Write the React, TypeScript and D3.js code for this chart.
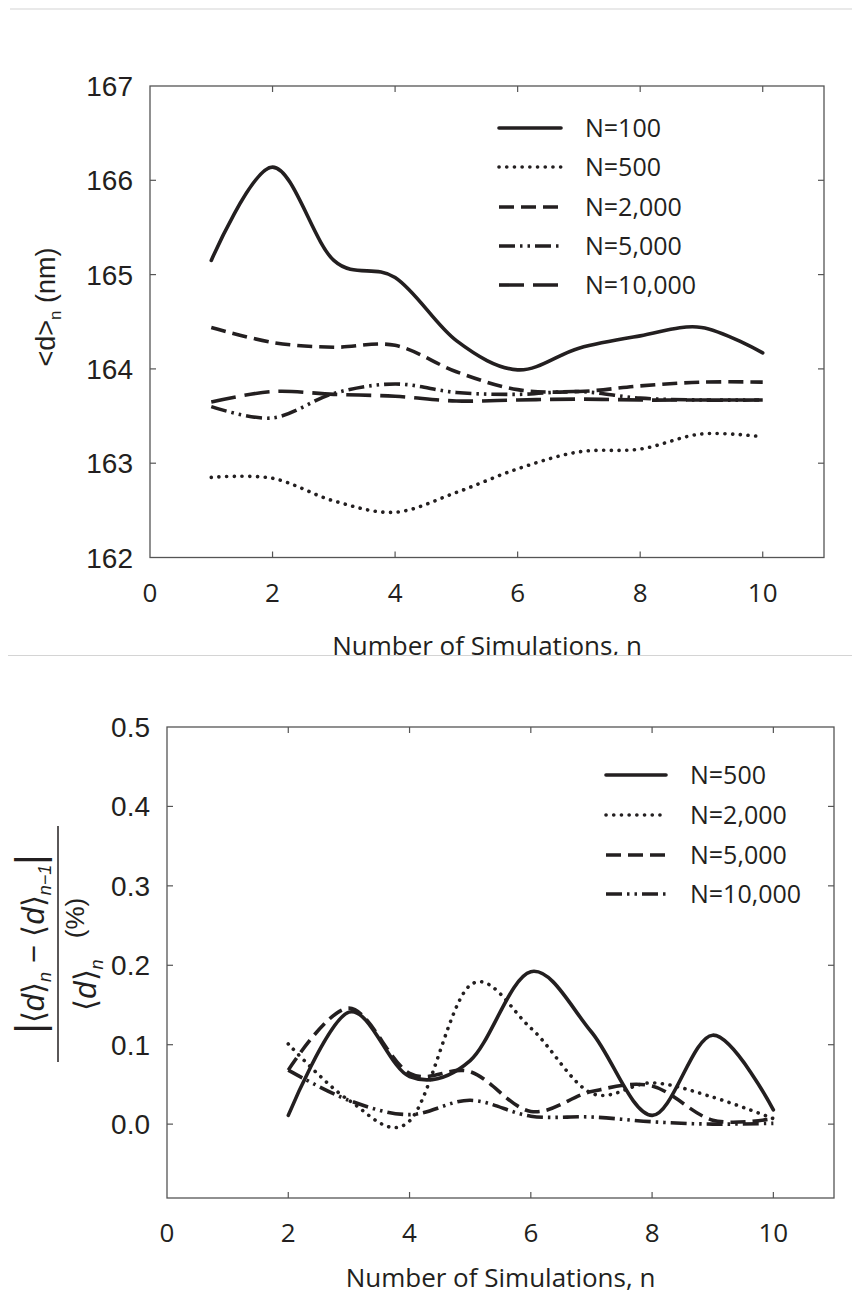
import React, { useEffect, useRef } from "react";
import * as d3 from "d3";

// ---------- data ----------
const nTop = [1, 2, 3, 4, 5, 6, 7, 8, 9, 10];
const topN100 = [165.15, 166.14, 165.15, 164.97, 164.3, 163.99, 164.22, 164.35, 164.44, 164.17];
const topN500 = [162.85, 162.84, 162.6, 162.48, 162.69, 162.94, 163.12, 163.15, 163.31, 163.28];
const topN2000 = [164.44, 164.28, 164.23, 164.25, 163.97, 163.78, 163.76, 163.82, 163.86, 163.86];
const topN5000 = [163.6, 163.48, 163.74, 163.84, 163.75, 163.73, 163.76, 163.69, 163.67, 163.67];
const topN10000 = [163.65, 163.76, 163.73, 163.71, 163.66, 163.67, 163.68, 163.67, 163.67, 163.67];
const topLabels = ["N=100", "N=500", "N=2,000", "N=5,000", "N=10,000"];
const topYTicks = [162, 163, 164, 165, 166, 167];

const nBot = [2, 3, 4, 5, 6, 7, 8, 9, 10];
const botN500 = [0.011, 0.141, 0.06, 0.08, 0.192, 0.116, 0.011, 0.112, 0.018];
const botN2000 = [0.101, 0.03, 0.004, 0.175, 0.121, 0.039, 0.052, 0.034, 0.007];
const botN5000 = [0.068, 0.146, 0.064, 0.066, 0.016, 0.041, 0.048, 0.005, 0.007];
const botN10000 = [0.068, 0.03, 0.012, 0.03, 0.01, 0.009, 0.003, 0.0, 0.001];
const botLabels = ["N=500", "N=2,000", "N=5,000", "N=10,000"];
const botYTicks = [0.0, 0.1, 0.2, 0.3, 0.4, 0.5];

const xTicks = [0, 2, 4, 6, 8, 10];
const xTitle = "Number of Simulations, n";

// ---------- styles ----------
const INK = "#231f20";
const FRAME = "#555";
const styles = {
  solid: { dash: null, cap: "round" },
  dotted: { dash: "0.1 7.6", cap: "round" },
  dashed: { dash: "15 7", cap: "butt" },
  dashdotdot: { dash: "16 5 2.5 5 2.5 5", cap: "butt" },
  longdash: { dash: "25 9", cap: "butt" },
};
const topStyles = ["solid", "dotted", "dashed", "dashdotdot", "longdash"];
const botStyles = ["solid", "dotted", "dashed", "dashdotdot"];

const NUM_FONT = "'Liberation Sans', Arial, sans-serif";
const CAL_FONT = "'Open Sans', sans-serif";
const LEG_FONT = "'Open Sans', sans-serif";

function drawFrame(g, x, y, yTicks, fmt) {
  const [x0, x1] = x.range();
  const [y0, y1] = y.range(); // y0 bottom, y1 top
  g.append("rect")
    .attr("x", x0).attr("y", y1)
    .attr("width", x1 - x0).attr("height", y0 - y1)
    .attr("fill", "none").attr("stroke", FRAME).attr("stroke-width", 1.3);
  const tl = 6;
  xTicks.forEach((t) => {
    if (t === 0) return;
    const px = x(t);
    g.append("line").attr("x1", px).attr("x2", px).attr("y1", y0).attr("y2", y0 - tl)
      .attr("stroke", FRAME).attr("stroke-width", 1.2);
    g.append("line").attr("x1", px).attr("x2", px).attr("y1", y1).attr("y2", y1 + tl)
      .attr("stroke", FRAME).attr("stroke-width", 1.2);
  });
  yTicks.forEach((t) => {
    const py = y(t);
    if (py < y0 - 1 && py > y1 + 1) {
      g.append("line").attr("x1", x0).attr("x2", x0 + tl).attr("y1", py).attr("y2", py)
        .attr("stroke", FRAME).attr("stroke-width", 1.2);
      g.append("line").attr("x1", x1).attr("x2", x1 - tl).attr("y1", py).attr("y2", py)
        .attr("stroke", FRAME).attr("stroke-width", 1.2);
    }
    g.append("text").attr("x", x0 - 17).attr("y", py + 10)
      .attr("text-anchor", "end").attr("font-family", NUM_FONT).attr("font-size", 28)
      .attr("fill", INK).text(fmt(t));
  });
}

function drawSeries(g, x, y, xs, ys, styleKey) {
  const st = styles[styleKey];
  const line = d3.line().x((d) => x(d[0])).y((d) => y(d[1])).curve(d3.curveCardinal.tension(0));
  const p = g.append("path")
    .attr("d", line(xs.map((v, i) => [v, ys[i]])))
    .attr("fill", "none").attr("stroke", INK).attr("stroke-width", 3.6)
    .attr("stroke-linecap", st.cap).attr("stroke-linejoin", "round");
  if (st.dash) p.attr("stroke-dasharray", st.dash);
}

function drawLegend(g, labels, styleKeys, lx0, lx1, tx, ys) {
  labels.forEach((lab, i) => {
    const st = styles[styleKeys[i]];
    const l = g.append("line").attr("x1", lx0).attr("x2", lx1).attr("y1", ys[i]).attr("y2", ys[i])
      .attr("stroke", INK).attr("stroke-width", 3.6).attr("stroke-linecap", st.cap);
    if (st.dash) l.attr("stroke-dasharray", st.dash);
    g.append("text").attr("x", tx).attr("y", ys[i] + 9)
      .attr("font-family", LEG_FONT).attr("font-size", 25).attr("fill", INK).text(lab);
  });
}

export default function App() {
  const ref = useRef(null);
  useEffect(() => {
    const svg = d3.select(ref.current);
    svg.selectAll("*").remove();

    // separators
    svg.append("line").attr("x1", 10).attr("x2", 852).attr("y1", 9).attr("y2", 9)
      .attr("stroke", "#d4d4d4").attr("stroke-width", 1.2);

    // ---------- top chart ----------
    svg.append("clipPath").attr("id", "topclip").append("rect")
      .attr("x", 0).attr("y", 0).attr("width", 852).attr("height", 655);
    const gt = svg.append("g").attr("clip-path", "url(#topclip)");
    const xT = d3.scaleLinear().domain([0, 11]).range([150, 824]);
    const yT = d3.scaleLinear().domain([162, 167]).range([557.5, 86]);
    drawFrame(gt, xT, yT, topYTicks, (v) => d3.format("d")(v));
    xTicks.forEach((t) => {
      gt.append("text").attr("x", xT(t)).attr("y", 602).attr("text-anchor", "middle")
        .attr("font-family", CAL_FONT).attr("font-size", 26).attr("fill", INK).text(t);
    });
    gt.append("text").attr("x", (xT.range()[0] + xT.range()[1]) / 2).attr("y", 655)
      .attr("text-anchor", "middle").attr("font-family", CAL_FONT).attr("font-size", 26)
      .attr("fill", INK).text(xTitle);
    // y title
    const yt = gt.append("text").attr("transform", "translate(55,307) rotate(-90)")
      .attr("text-anchor", "middle").attr("font-family", NUM_FONT).attr("font-size", 27).attr("fill", INK);
    yt.append("tspan").text("<d>");
    yt.append("tspan").attr("font-size", 17).attr("dy", 6).text("n");
    yt.append("tspan").attr("dy", -6).text(" (nm)");

    const topSeries = [topN100, topN500, topN2000, topN5000, topN10000];
    topSeries.forEach((s, i) => drawSeries(gt, xT, yT, nTop, s, topStyles[i]));
    drawLegend(gt, topLabels, topStyles, 499, 561, 585, [128, 167, 207, 246, 285]);

    svg.append("line").attr("x1", 8).attr("x2", 852).attr("y1", 655.5).attr("y2", 655.5)
      .attr("stroke", "#d4d4d4").attr("stroke-width", 1.2);

    // ---------- bottom chart ----------
    const gb = svg.append("g");
    const xB = d3.scaleLinear().domain([0, 11]).range([167, 834]);
    const yB = d3.scaleLinear().domain([-0.093, 0.5]).range([1198, 727]);
    drawFrame(gb, xB, yB, botYTicks, (v) => d3.format(".1f")(v));
    xTicks.forEach((t) => {
      gb.append("text").attr("x", xB(t)).attr("y", 1242).attr("text-anchor", "middle")
        .attr("font-family", CAL_FONT).attr("font-size", 26).attr("fill", INK).text(t);
    });
    gb.append("text").attr("x", (xB.range()[0] + xB.range()[1]) / 2).attr("y", 1287)
      .attr("text-anchor", "middle").attr("font-family", CAL_FONT).attr("font-size", 26)
      .attr("fill", INK).text(xTitle);

    const botSeries = [botN500, botN2000, botN5000, botN10000];
    botSeries.forEach((s, i) => drawSeries(gb, xB, yB, nBot, s, botStyles[i]));
    drawLegend(gb, botLabels, botStyles, 606, 666, 690, [775, 815, 855, 894]);

    // y-axis formula label (rotated)
    const fg = gb.append("g").attr("transform", "translate(52,944) rotate(-90)")
      .attr("font-family", NUM_FONT).attr("fill", INK);
    const num = fg.append("text").attr("x", 0).attr("y", -8).attr("text-anchor", "middle").attr("font-size", 31);
    num.append("tspan").attr("font-size", 40).text("|");
    num.append("tspan").text("⟨");
    num.append("tspan").attr("font-style", "italic").text("d");
    num.append("tspan").text("⟩");
    num.append("tspan").attr("font-size", 18).attr("font-style", "italic").attr("dy", 7).text("n");
    num.append("tspan").attr("dy", -7).text(" − ⟨");
    num.append("tspan").attr("font-style", "italic").text("d");
    num.append("tspan").text("⟩");
    num.append("tspan").attr("font-size", 18).attr("font-style", "italic").attr("dy", 7).text("n−1");
    num.append("tspan").attr("dy", -7).attr("font-size", 40).text("|");
    fg.append("line").attr("x1", -118).attr("x2", 118).attr("y1", 6).attr("y2", 6)
      .attr("stroke", INK).attr("stroke-width", 1.5);
    const den = fg.append("text").attr("x", -41).attr("y", 44).attr("text-anchor", "middle").attr("font-size", 31);
    den.append("tspan").text("⟨");
    den.append("tspan").attr("font-style", "italic").text("d");
    den.append("tspan").text("⟩");
    den.append("tspan").attr("font-size", 18).attr("font-style", "italic").attr("dy", 7).text("n");
    fg.append("text").attr("x", 26).attr("y", 32).attr("text-anchor", "middle").attr("font-size", 26).text("(%)");
  }, []);
  return (
    <svg ref={ref} width={852} height={1298}
      style={{ position: "absolute", left: 0, top: 0, background: "#fff" }} />
  );
}
